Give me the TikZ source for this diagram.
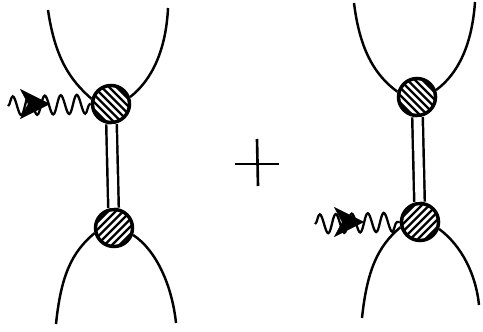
\documentclass[tikz,border=0pt]{standalone}
\usepackage{tikz}
\usetikzlibrary{arrows.meta,decorations.pathmorphing}

\tikzset{
  blob/.style={circle,draw,line width=2pt,fill=white,inner sep=0pt,minimum size=7.4mm,
    path picture={\foreach \d in {-30,-22.5,...,30}
      \draw[line width=1.3pt,shift={(path picture bounding box.center)}] (-25,{\d-25*#1}) -- (25,{\d+25*#1});}},
  line/.style={line width=1.4pt},
  photon/.style={line width=1.3pt,decorate,decoration={snake,segment length=3.2mm,amplitude=1.9mm}},
  head/.style={line width=0.2pt,-{Stealth[length=6mm,width=6mm,inset=1.6mm]}}
}

\begin{document}
\begin{tikzpicture}[x=0.2mm,y=-0.2mm]
  \useasboundingbox (0,0) rectangle (483,331);
  % left graph
  \node[blob=1] (ta) at (111,104) {};
  \node[blob=-1] (ba) at (114,228) {};
  \draw[line,double,double distance=4.6pt] (ta) -- (ba);
  \draw[line] (48,10) .. controls (55,58) and (70,80) .. (ta.165);
  \draw[line] (168,8) .. controls (166,50) and (152,80) .. (ta.20);
  \draw[line] (56,324) .. controls (61,275) and (72,252) .. (ba.195);
  \draw[line] (176,323) .. controls (172,285) and (156,250) .. (ba.-20);
  \coordinate (pa) at (8,106);
  \coordinate (sa) at (30,104);
  \coordinate (ea) at (50,104);
  \draw[photon] (pa) -- (ta.west);
  \draw[head] (sa) -- (ea);
  % plus
  \coordinate (pl) at (235,164);
  \coordinate (pr) at (279,164);
  \coordinate (pt) at (257,139);
  \coordinate (pb) at (258,186);
  \draw[line width=1.5pt] (pl) -- (pr);
  \draw[line width=1.5pt] (pt) -- (pb);
  % right graph
  \node[blob=1] (tb) at (417,97) {};
  \node[blob=-1] (bb) at (420,222) {};
  \draw[line,double,double distance=4.6pt] (tb) -- (bb);
  \draw[line] (354,3) .. controls (360,52) and (376,76) .. (tb.165);
  \draw[line] (475,2) .. controls (472,45) and (458,74) .. (tb.20);
  \draw[line] (362,318) .. controls (367,270) and (378,246) .. (bb.195);
  \draw[line] (479,305) .. controls (476,275) and (462,246) .. (bb.-20);
  \coordinate (pc) at (315,224);
  \coordinate (sb) at (346,222);
  \coordinate (eb) at (364,222);
  \draw[photon] (pc) -- (bb.west);
  \draw[head] (sb) -- (eb);
\end{tikzpicture}
\end{document}
